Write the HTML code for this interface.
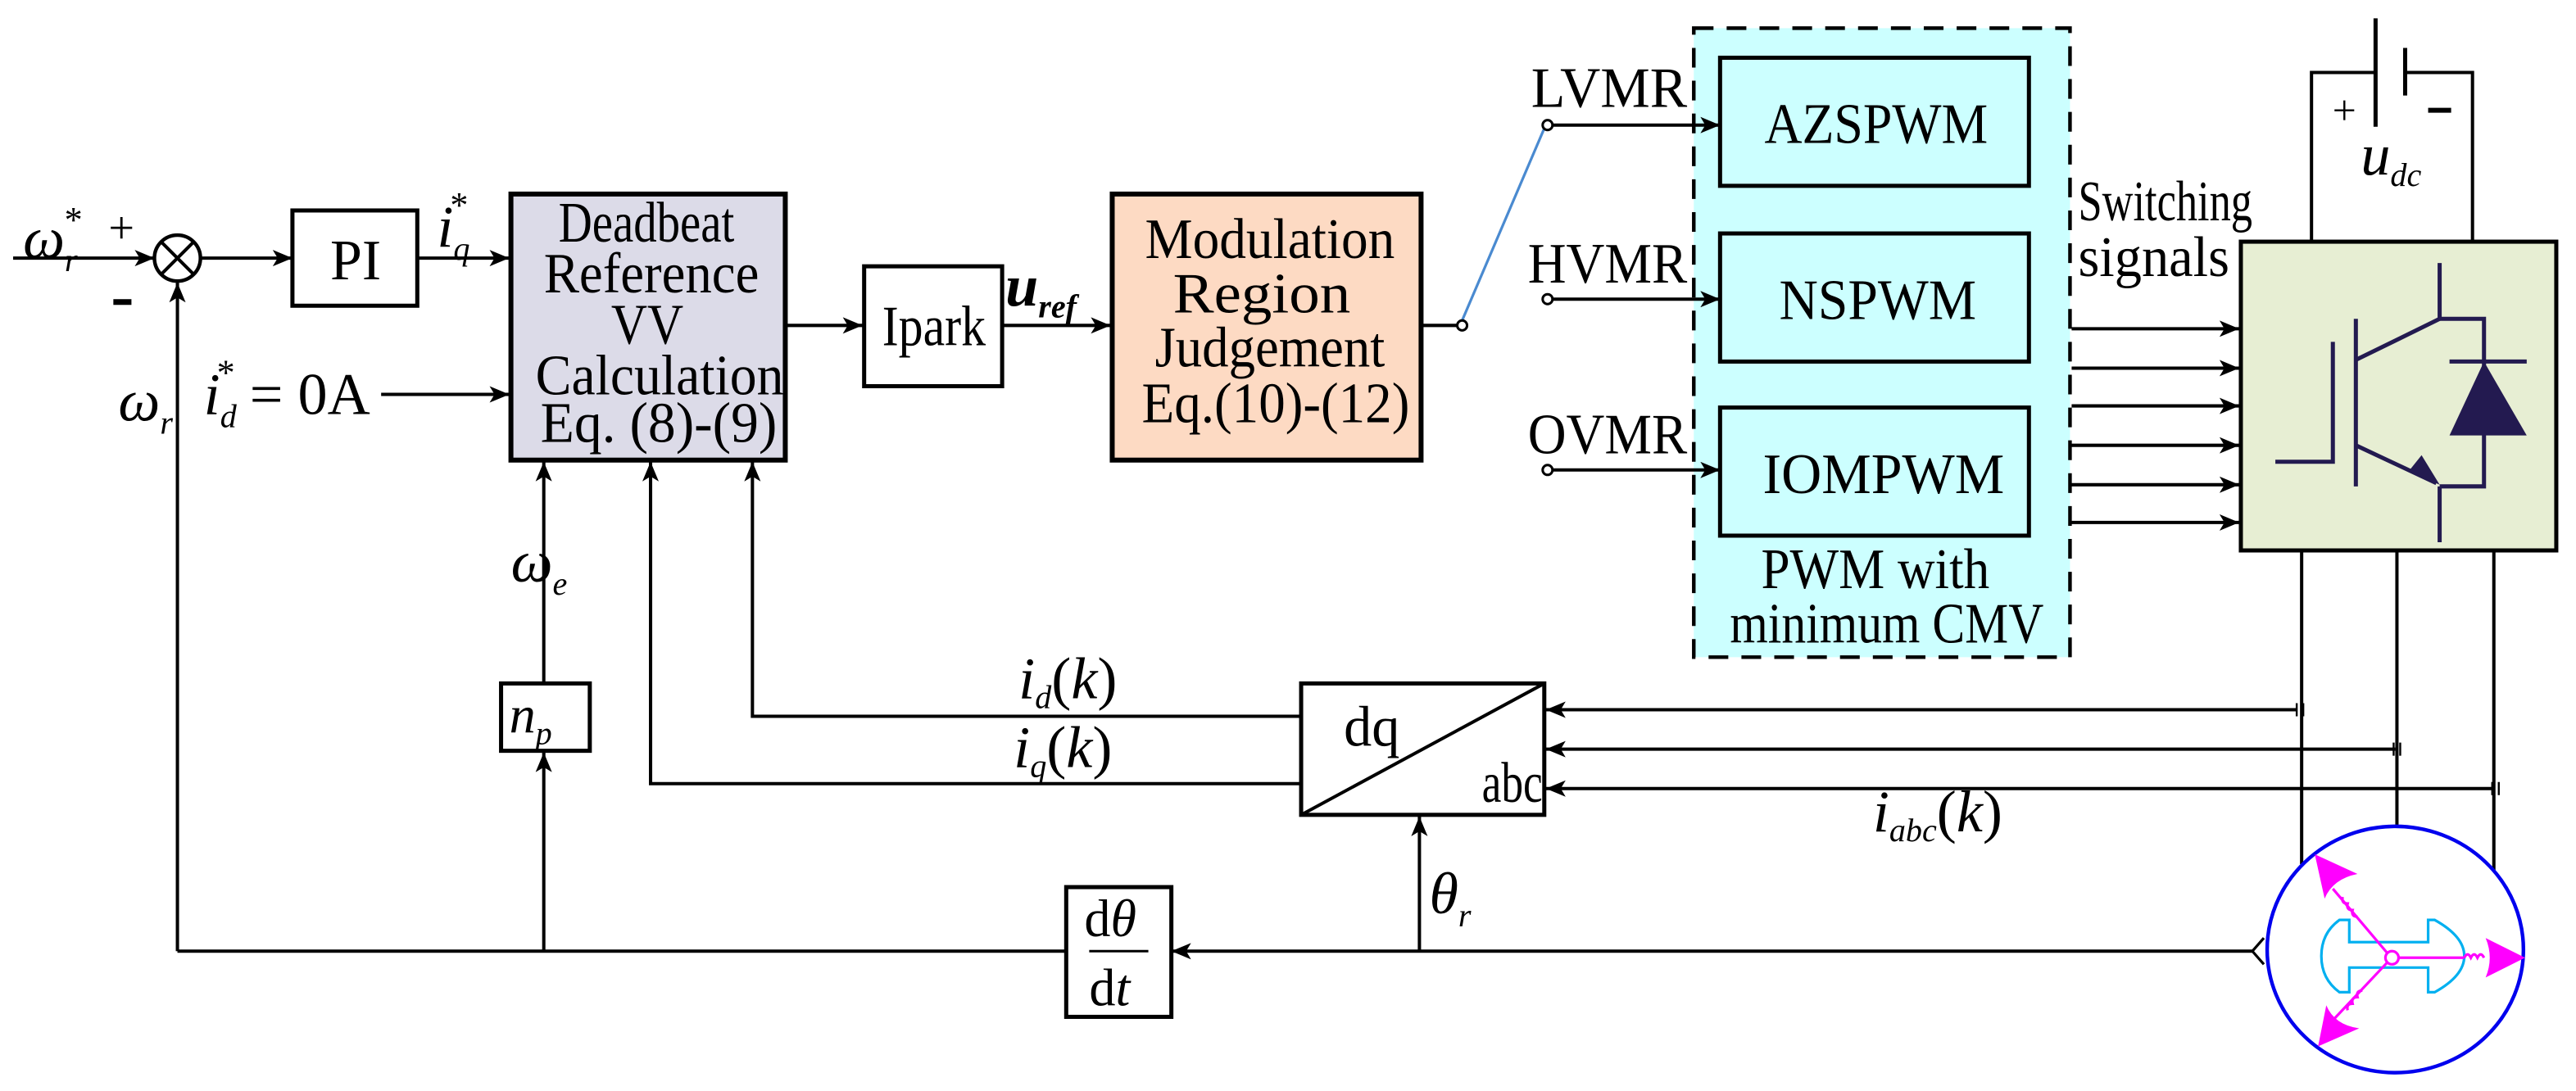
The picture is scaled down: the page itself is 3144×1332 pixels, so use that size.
<!DOCTYPE html>
<html><head><meta charset="utf-8"><style>
html,body{margin:0;padding:0;background:#fff;}
svg{display:block;}
text{font-family:"Liberation Serif",serif;fill:#000;}
.it{font-style:italic;}
</style></head><body>
<svg width="3144" height="1332" viewBox="0 0 1568 664" xmlns="http://www.w3.org/2000/svg">
<defs>
<marker id="a" viewBox="0 0 12 10" refX="12" refY="5" markerWidth="12" markerHeight="10" markerUnits="userSpaceOnUse" orient="auto">
<path d="M0,0 L12,5 L0,10 L3,5 Z" fill="#000"/></marker>
</defs>
<g stroke="#000" stroke-width="2" fill="none">
<line x1="8" y1="157" x2="94" y2="157" marker-end="url(#a)"/>
<circle cx="108" cy="157" r="14" stroke-width="2.2"/>
<line x1="98" y1="147" x2="118" y2="167"/><line x1="118" y1="147" x2="98" y2="167"/>
<line x1="122" y1="157" x2="178" y2="157" marker-end="url(#a)"/>
<rect x="178" y="128" width="76" height="58" stroke-width="2.5"/>
<line x1="254" y1="157" x2="310" y2="157" marker-end="url(#a)"/>
<line x1="232" y1="240" x2="310" y2="240" marker-end="url(#a)"/>
<rect x="311" y="118" width="167" height="162" fill="#dcdbe8" stroke-width="3"/>
<line x1="478" y1="198" x2="525" y2="198" marker-end="url(#a)"/>
<rect x="526" y="162" width="84" height="73" stroke-width="2.5"/>
<line x1="610" y1="198" x2="676" y2="198" marker-end="url(#a)"/>
<rect x="677" y="118" width="188" height="162" fill="#fddac3" stroke-width="3"/>
<line x1="865" y1="198" x2="887" y2="198"/>
<line x1="890" y1="195" x2="940" y2="78" stroke="#4a8ad0" stroke-width="1.6"/>
<circle cx="890" cy="198" r="3" fill="#fff" stroke-width="1.5"/>
<rect x="1031" y="17" width="229" height="383" fill="#ccffff" stroke-dasharray="12,8" stroke-width="2.2"/>
<rect x="1047" y="35" width="188" height="78" stroke-width="2.5"/>
<rect x="1047" y="142" width="188" height="78" stroke-width="2.5"/>
<rect x="1047" y="248" width="188" height="78" stroke-width="2.5"/>
<line x1="945" y1="76" x2="1047" y2="76" marker-end="url(#a)"/>
<line x1="945" y1="182" x2="1047" y2="182" marker-end="url(#a)"/>
<line x1="945" y1="286" x2="1047" y2="286" marker-end="url(#a)"/>
<circle cx="942" cy="76" r="3" fill="#fff" stroke-width="1.5"/>
<circle cx="942" cy="182" r="3" fill="#fff" stroke-width="1.5"/>
<circle cx="942" cy="286" r="3" fill="#fff" stroke-width="1.5"/>
<line x1="1261" y1="200" x2="1363" y2="200" marker-end="url(#a)"/>
<line x1="1261" y1="224" x2="1363" y2="224" marker-end="url(#a)"/>
<line x1="1261" y1="247" x2="1363" y2="247" marker-end="url(#a)"/>
<line x1="1261" y1="271" x2="1363" y2="271" marker-end="url(#a)"/>
<line x1="1261" y1="295" x2="1363" y2="295" marker-end="url(#a)"/>
<line x1="1261" y1="318" x2="1363" y2="318" marker-end="url(#a)"/>
<polyline points="1407,147 1407,44 1446,44"/>
<polyline points="1464,44 1505,44 1505,147"/>
<line x1="1446" y1="11" x2="1446" y2="77" stroke-width="2.5"/>
<line x1="1464" y1="29" x2="1464" y2="58" stroke-width="2.5"/>
<line x1="1478" y1="67" x2="1492" y2="67" stroke-width="3"/>
<line x1="1421" y1="67" x2="1433" y2="67" stroke-width="1.2"/><line x1="1427" y1="61" x2="1427" y2="73" stroke-width="1.2"/>
<rect x="1364" y="147" width="192" height="188" fill="#e7eed3" stroke-width="2.5"/>
<g stroke="#231a50" stroke-width="2.5">
<line x1="1485" y1="160" x2="1485" y2="194"/>
<polyline points="1485,194 1512,194 1512,296 1485,296"/>
<line x1="1485" y1="194" x2="1434" y2="219"/>
<line x1="1434" y1="194" x2="1434" y2="296"/>
<polyline points="1420,208 1420,281 1385,281"/>
<line x1="1434" y1="271" x2="1483" y2="294"/>
<line x1="1485" y1="296" x2="1485" y2="330"/>
<line x1="1491" y1="220" x2="1538" y2="220"/>
</g>
<path d="M1512,220 L1491,265 L1538,265 Z" fill="#231a50" stroke="none"/>
<path d="M1485,295 L1466,287 L1474,277 Z" fill="#231a50" stroke="none"/>
<line x1="1401" y1="335" x2="1401" y2="526"/>
<line x1="1459" y1="335" x2="1459" y2="503"/>
<line x1="1518" y1="335" x2="1518" y2="530"/>
<line x1="1398" y1="432" x2="941" y2="432" marker-end="url(#a)"/>
<line x1="1458" y1="456" x2="941" y2="456" marker-end="url(#a)"/>
<line x1="1517" y1="480" x2="941" y2="480" marker-end="url(#a)"/>
<g stroke-width="1.2">
<line x1="1398" y1="428" x2="1398" y2="436"/><line x1="1402" y1="428" x2="1402" y2="436"/>
<line x1="1457" y1="452" x2="1457" y2="460"/><line x1="1461" y1="452" x2="1461" y2="460"/>
<line x1="1517" y1="476" x2="1517" y2="484"/><line x1="1521" y1="476" x2="1521" y2="484"/>
</g>
<rect x="792" y="416" width="148" height="80" stroke-width="2.5"/>
<line x1="792" y1="496" x2="940" y2="416"/>
<polyline points="792,436 458,436 458,281" marker-end="url(#a)"/>
<polyline points="792,477 396,477 396,281" marker-end="url(#a)"/>
<line x1="331" y1="416" x2="331" y2="281" marker-end="url(#a)"/>
<rect x="305" y="416" width="54" height="41" stroke-width="2.5"/>
<line x1="331" y1="579" x2="331" y2="458" marker-end="url(#a)"/>
<line x1="1371" y1="579" x2="713" y2="579" marker-end="url(#a)"/>
<polyline points="1378,571 1371,579 1378,587" stroke-width="1.6"/>
<line x1="649" y1="579" x2="108" y2="579"/>
<line x1="108" y1="579" x2="108" y2="172" marker-end="url(#a)"/>
<rect x="649" y="540" width="64" height="79" stroke-width="2.5"/>
<line x1="663" y1="579" x2="699" y2="579" stroke-width="1.5"/>
<line x1="864" y1="579" x2="864" y2="497" marker-end="url(#a)"/>
<ellipse cx="1458" cy="578" rx="78" ry="75" stroke="#0000ee" stroke-width="2.2"/>
<path d="M1430,573.5 L1478,573.5 L1478,560 L1482,560 Q1500,570 1500,582 Q1500,594 1482,604 L1478,604 L1478,589 L1430,589 L1430,604 L1424,604 Q1413,596 1413,582 Q1413,568 1424,560 L1430,560 Z" stroke="#00b0f0" stroke-width="1.6"/>
<g stroke="#ff00ff" stroke-width="1.6">
<circle cx="1456" cy="583" r="4"/>
<line x1="1460" y1="583" x2="1500" y2="583"/>
<line x1="1453" y1="580" x2="1420" y2="541"/>
<line x1="1453" y1="586" x2="1421" y2="620"/>
<path d="M1500,583 q2,-4 4,0 q2,-4 4,0 q2,-4 4,0"/>
<path d="M1435,558 q-4,0 -3,-4 q-4,0 -3,-4 q-4,0 -3,-4"/>
<path d="M1438,603 q-4,0 -3,4 q-4,0 -3,4 q-4,0 -3,4"/>
</g>
<path d="M1537,583 L1513,571 Q1518,583 1513,595 Z" fill="#ff00ff" stroke="none"/>
<path d="M1409,520 L1415,547 Q1420,535 1435,532 Z" fill="#ff00ff" stroke="none"/>
<path d="M1411,637 L1436,626 Q1421,624 1416,612 Z" fill="#ff00ff" stroke="none"/>
</g>
<g font-size="35">
<text x="201" y="170" textLength="31" lengthAdjust="spacingAndGlyphs">PI</text>
<text x="340" y="147" textLength="107" lengthAdjust="spacingAndGlyphs">Deadbeat</text>
<text x="331" y="178" textLength="131" lengthAdjust="spacingAndGlyphs">Reference</text>
<text x="372" y="209" textLength="44" lengthAdjust="spacingAndGlyphs">VV</text>
<text x="326" y="240" textLength="151" lengthAdjust="spacingAndGlyphs">Calculation</text>
<text x="329" y="269" textLength="144" lengthAdjust="spacingAndGlyphs">Eq. (8)-(9)</text>
<text x="537" y="210" textLength="63" lengthAdjust="spacingAndGlyphs">Ipark</text>
<text x="697" y="157" textLength="152" lengthAdjust="spacingAndGlyphs">Modulation</text>
<text x="714" y="190" textLength="108" lengthAdjust="spacingAndGlyphs">Region</text>
<text x="703" y="223" textLength="140" lengthAdjust="spacingAndGlyphs">Judgement</text>
<text x="695" y="257" textLength="163" lengthAdjust="spacingAndGlyphs">Eq.(10)-(12)</text>
<text x="932" y="65" textLength="95" lengthAdjust="spacingAndGlyphs">LVMR</text>
<text x="930" y="172" textLength="97" lengthAdjust="spacingAndGlyphs">HVMR</text>
<text x="930" y="276" textLength="97" lengthAdjust="spacingAndGlyphs">OVMR</text>
<text x="1074" y="87" textLength="136" lengthAdjust="spacingAndGlyphs">AZSPWM</text>
<text x="1083" y="194" textLength="120" lengthAdjust="spacingAndGlyphs">NSPWM</text>
<text x="1073" y="300" textLength="147" lengthAdjust="spacingAndGlyphs">IOMPWM</text>
<text x="1072" y="358" textLength="139" lengthAdjust="spacingAndGlyphs">PWM with</text>
<text x="1053" y="391" textLength="191" lengthAdjust="spacingAndGlyphs">minimum CMV</text>
<text x="1265" y="134" textLength="106" lengthAdjust="spacingAndGlyphs">Switching</text>
<text x="1265" y="168" textLength="92" lengthAdjust="spacingAndGlyphs">signals</text>
<text x="818" y="454" textLength="34" lengthAdjust="spacingAndGlyphs">dq</text>
<text x="902" y="488" textLength="37" lengthAdjust="spacingAndGlyphs">abc</text>
<text x="660" y="570" font-size="32">d<tspan class="it">θ</tspan></text>
<text x="663" y="612" font-size="32">d<tspan class="it">t</tspan></text>
</g>
<g class="it" font-size="36">
<text x="14" y="157">ω<tspan font-size="20" dy="8">r</tspan><tspan font-size="22" dx="-8" dy="-24" font-style="normal">*</tspan></text>
<text x="66" y="148" font-style="normal" font-size="28">+</text>
<rect x="69" y="182" width="11" height="3.5" fill="#000"/>
<text x="72" y="256">ω<tspan font-size="20" dy="8">r</tspan></text>
<text x="266" y="150">i<tspan font-size="20" dy="8">q</tspan><tspan font-size="22" dx="-12" dy="-26" font-style="normal">*</tspan></text>
<text x="124" y="252">i<tspan font-size="20" dy="8">d</tspan><tspan font-size="22" dx="-12" dy="-26" font-style="normal">*</tspan><tspan font-style="normal" dy="18"> = 0A</tspan></text>
<text x="612" y="186" font-weight="bold">u<tspan font-size="20" dy="7">ref</tspan></text>
<text x="311" y="354">ω<tspan font-size="20" dy="8">e</tspan></text>
<text x="310" y="446" font-size="32">n<tspan font-size="20" dy="7">p</tspan></text>
<text x="620" y="425">i<tspan font-size="20" dy="6">d</tspan><tspan dy="-6" font-style="normal">(</tspan>k<tspan font-style="normal">)</tspan></text>
<text x="617" y="467">i<tspan font-size="20" dy="6">q</tspan><tspan dy="-6" font-style="normal">(</tspan>k<tspan font-style="normal">)</tspan></text>
<text x="1140" y="506">i<tspan font-size="20" dy="6">abc</tspan><tspan dy="-6" font-style="normal">(</tspan>k<tspan font-style="normal">)</tspan></text>
<text x="870" y="556">θ<tspan font-size="20" dy="8">r</tspan></text>
<text x="1437" y="106">u<tspan font-size="20" dy="7">dc</tspan></text>
</g>
</svg>
</body></html>
